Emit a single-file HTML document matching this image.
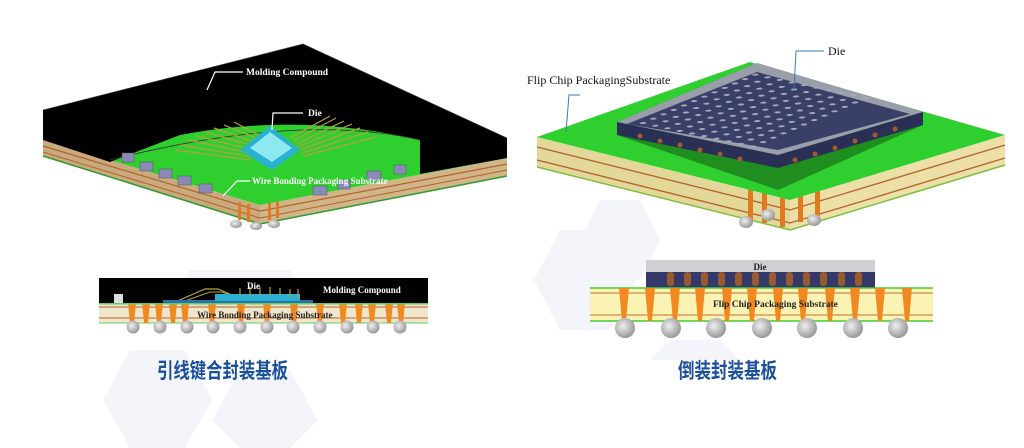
<!DOCTYPE html>
<html><head><meta charset="utf-8"><style>
html,body{margin:0;padding:0;background:#fff;width:1024px;height:448px;overflow:hidden}
svg{display:block}
.t{font-family:"Liberation Serif",serif;font-weight:bold;fill:#fff}
.tb{font-family:"Liberation Serif",serif;font-weight:bold;fill:#222}
.cn{font-family:"Liberation Sans","Noto Sans CJK SC",sans-serif;font-weight:bold;fill:#1b4f9c}
</style></head><body>
<svg width="1024" height="448" viewBox="0 0 1024 448" xmlns="http://www.w3.org/2000/svg">
<defs>
<radialGradient id="ball" cx="0.4" cy="0.4" r="0.7"><stop offset="0" stop-color="#f0f0f0"/><stop offset="1" stop-color="#8a8a8a"/></radialGradient>
<pattern id="dots" width="1" height="1" patternUnits="userSpaceOnUse"><circle cx="0.5" cy="0.5" r="0.2" fill="#a8a8bc"/></pattern>
</defs>
<g fill="#f3f5fa">
<polygon points="130,350 185,350 212,400 185,448 130,448 103,400"/>
<polygon points="240,370 290,370 318,420 290,448 240,448 212,420"/>
<polygon points="560,230 610,230 636,280 610,330 560,330 534,280"/>
<polygon points="600,200 640,200 660,240 640,280 600,280 580,240"/>
<polygon points="190,270 290,270 300,290 180,290"/>
<polygon points="670,340 720,340 740,360 650,360"/>
</g>

<!-- ===== LEFT 3D ===== -->
<polygon points="43,140 260,205 260,224 43,156" fill="#c9aa7e"/>
<polygon points="260,205 507,158 507,176 260,224" fill="#d2b489"/>
<polyline points="43,146 260,211 507,164" fill="none" stroke="#b0642a" stroke-width="1.2"/>
<polyline points="43,152 260,218 507,170" fill="none" stroke="#b0642a" stroke-width="1"/>
<polyline points="43,156 260,224 507,176" fill="none" stroke="#2e9a2e" stroke-width="1.5"/>
<g fill="#e07a20"><rect x="238" y="202" width="3" height="18"/><rect x="247" y="204" width="3" height="18"/><rect x="268" y="202" width="3" height="18"/><rect x="276" y="200" width="3" height="18"/></g>
<g fill="url(#ball)"><ellipse cx="236" cy="224" rx="6" ry="4"/><ellipse cx="256" cy="226" rx="6" ry="4"/><ellipse cx="274" cy="224" rx="6" ry="4"/></g>
<polygon points="43,140 180,100 420,130 507,158 260,205" fill="#2fcf2f"/>
<path d="M43,110 L303,44 L507,138 L507,158 L420,174 L420,140 Q300,112 180,135 L110,162 L43,140 Z" fill="#000"/>
<path d="M110,160 Q300,112 420,140" fill="none" stroke="#333" stroke-width="0.8"/>
<polyline points="43,110 303,44 507,138" fill="none" stroke="#444" stroke-width="0.6"/>
<g stroke="#b8a040" stroke-width="1.2">
<line x1="175" y1="150" x2="250" y2="160"/><line x1="180" y1="145" x2="252" y2="157"/><line x1="188" y1="140" x2="255" y2="154"/><line x1="196" y1="136" x2="258" y2="151"/><line x1="205" y1="132" x2="260" y2="148"/><line x1="214" y1="128" x2="263" y2="145"/><line x1="224" y1="125" x2="266" y2="142"/><line x1="234" y1="122" x2="268" y2="140"/>
<line x1="360" y1="128" x2="300" y2="150"/><line x1="352" y1="124" x2="298" y2="147"/><line x1="344" y1="121" x2="296" y2="144"/><line x1="336" y1="118" x2="293" y2="141"/><line x1="330" y1="116" x2="290" y2="138"/><line x1="368" y1="132" x2="302" y2="153"/><line x1="376" y1="137" x2="304" y2="156"/>
</g>
<polygon points="240,150 270,126 300,150 272,170" fill="#2ab0d0"/>
<polygon points="250,148 270,132 292,148 272,162" fill="#8ee8f0"/>
<g fill="#8a8ab8" stroke="#555" stroke-width="0.5">
<rect x="122" y="153" width="12" height="9"/><rect x="140" y="162" width="13" height="9"/><rect x="159" y="169" width="13" height="9"/><rect x="178" y="176" width="13" height="9"/><rect x="199" y="184" width="13" height="9"/>
<rect x="313" y="186" width="14" height="9"/><rect x="338" y="180" width="12" height="9"/><rect x="367" y="171" width="14" height="9"/><rect x="394" y="165" width="12" height="9"/>
</g>
<text class="t" x="246" y="75" font-size="9.5">Molding Compound</text>
<polyline points="243,72 215,72 207,90" fill="none" stroke="#fff" stroke-width="1.2"/>
<text class="t" x="308" y="116" font-size="9.5">Die</text>
<polyline points="303,113 273,113 272,130" fill="none" stroke="#fff" stroke-width="1.2"/>
<text class="t" x="252" y="184" font-size="9">Wire Bonding Packaging Substrate</text>
<polyline points="250,181 237,181 223,196" fill="none" stroke="#fff" stroke-width="1.2"/>

<!-- ===== RIGHT 3D ===== -->
<polygon points="537,137 790,200 790,230 537,167" fill="#e4d79a"/>
<polygon points="790,200 1005,135 1005,165 790,230" fill="#ece0a8"/>
<polyline points="537,147 790,210 1005,145" fill="none" stroke="#b0642a" stroke-width="1.3"/>
<polyline points="537,160 790,223 1005,158" fill="none" stroke="#b0642a" stroke-width="1.3"/>
<polyline points="537,167 790,230 1005,165" fill="none" stroke="#7ac040" stroke-width="1.5"/>
<g fill="#e07a20"><rect x="748" y="185" width="5" height="35"/><rect x="762" y="188" width="5" height="35"/><rect x="780" y="192" width="5" height="35"/><rect x="798" y="190" width="5" height="32"/><rect x="815" y="184" width="5" height="32"/></g>
<g fill="url(#ball)"><ellipse cx="746" cy="222" rx="7" ry="6"/><ellipse cx="768" cy="215" rx="7" ry="6"/><ellipse cx="814" cy="220" rx="7" ry="6"/></g>
<polygon points="537,137 750,62 1005,135 790,200" fill="#2fcf2f"/>
<polygon points="617,122 757,63 923,112 923,125 778,190 617,135" fill="#135a13" opacity="0.55"/>
<!-- die: grey translucent rim then navy -->
<polygon points="617,122 757,63 923,112 778,155" fill="#9a9eaa"/>
<polygon points="627,124 757,72 910,114 778,150" fill="#3a3f68"/>
<polygon points="617,122 778,155 778,168 617,135" fill="#2a2f55"/>
<polygon points="778,155 923,112 923,125 778,168" fill="#2a2f55"/>
<g transform="matrix(10.2,-4.4,12.2,2.6,632,124)">
<rect x="0" y="0" width="12" height="10" fill="url(#dots)"/>
</g>
<g fill="#a05a30"><circle cx="640" cy="136" r="2.5"/><circle cx="660" cy="141" r="2.5"/><circle cx="680" cy="145" r="2.5"/><circle cx="700" cy="150" r="2.5"/><circle cx="720" cy="154" r="2.5"/><circle cx="740" cy="159" r="2.5"/><circle cx="795" cy="160" r="2.5"/><circle cx="815" cy="154" r="2.5"/><circle cx="835" cy="148" r="2.5"/><circle cx="855" cy="141" r="2.5"/><circle cx="875" cy="135" r="2.5"/><circle cx="895" cy="129" r="2.5"/></g>
<text x="527" y="84" font-family="Liberation Serif,serif" font-size="12" fill="#111">Flip Chip PackagingSubstrate</text>
<polyline points="580,95 569,95 566,132" fill="none" stroke="#3a78b8" stroke-width="1"/>
<text x="828" y="55" font-family="Liberation Serif,serif" font-size="12" fill="#111">Die</text>
<polyline points="824,51 796,51 794,90" fill="none" stroke="#3a78b8" stroke-width="1"/>

<!-- ===== LEFT CROSS SECTION ===== -->
<rect x="99" y="278" width="329" height="25" fill="#000"/>
<rect x="114" y="294" width="9" height="9" fill="#ddd"/>
<polyline points="175,302 205,289 218,289 232,295" fill="none" stroke="#b8a040" stroke-width="1.2"/>
<polyline points="182,302 210,292 222,292 236,297" fill="none" stroke="#b8a040" stroke-width="1"/>
<rect x="163" y="300" width="150" height="3" fill="#2a70b0"/>
<rect x="215" y="294" width="85" height="7" fill="#2ab0d0"/>
<g stroke="#b8a040" stroke-width="1.2"><line x1="240" y1="296" x2="240" y2="288"/><line x1="250" y1="296" x2="250" y2="287"/><line x1="260" y1="296" x2="260" y2="287"/><line x1="270" y1="296" x2="270" y2="287"/><line x1="280" y1="296" x2="280" y2="288"/><line x1="290" y1="297" x2="290" y2="289"/><line x1="298" y1="298" x2="298" y2="289"/></g>
<rect x="99" y="303" width="329" height="20" fill="#efe6cc"/>
<line x1="99" y1="307" x2="428" y2="307" stroke="#b0642a"/>
<line x1="99" y1="318" x2="428" y2="318" stroke="#b0642a"/>
<line x1="99" y1="323" x2="428" y2="323" stroke="#6c6"/>
<g fill="#f08a20">
<polygon points="128,303 136,303 134,323 130,323"/><polygon points="142,303 150,303 148,323 144,323"/><polygon points="155,303 163,303 161,323 157,323"/><polygon points="169,303 177,303 175,323 171,323"/><polygon points="181,303 189,303 187,323 183,323"/><polygon points="208,303 216,303 214,323 210,323"/><polygon points="237,303 245,303 243,323 239,323"/><polygon points="263,303 271,303 269,323 265,323"/><polygon points="290,303 298,303 296,323 292,323"/><polygon points="316,303 324,303 322,323 318,323"/><polygon points="339,303 347,303 345,323 341,323"/><polygon points="355,303 363,303 361,323 357,323"/><polygon points="368,303 376,303 374,323 370,323"/><polygon points="385,303 393,303 391,323 387,323"/><polygon points="397,303 405,303 403,323 399,323"/>
</g>
<g fill="url(#ball)"><circle cx="133" cy="327" r="6.5"/><circle cx="160" cy="327" r="6.5"/><circle cx="187" cy="327" r="6.5"/><circle cx="213" cy="327" r="6.5"/><circle cx="240" cy="327" r="6.5"/><circle cx="267" cy="327" r="6.5"/><circle cx="293" cy="327" r="6.5"/><circle cx="320" cy="327" r="6.5"/><circle cx="347" cy="327" r="6.5"/><circle cx="373" cy="327" r="6.5"/><circle cx="400" cy="327" r="6.5"/></g>
<rect x="99" y="303" width="329" height="1.5" fill="#6c6"/>
<text class="t" x="247" y="289" font-size="9">Die</text>
<text class="t" x="323" y="293" font-size="9">Molding Compound</text>
<text class="tb" x="197" y="318" font-size="9">Wire Bonding Packaging Substrate</text>

<!-- ===== RIGHT CROSS SECTION ===== -->
<rect x="646" y="260" width="229" height="12" fill="#cfcfd4"/>
<rect x="646" y="272" width="229" height="16" fill="#34396a"/>
<g fill="#9a5a30"><rect x="667" y="272" width="7" height="14" rx="3"/><rect x="684" y="272" width="7" height="14" rx="3"/><rect x="701" y="272" width="7" height="14" rx="3"/><rect x="718" y="272" width="7" height="14" rx="3"/><rect x="735" y="272" width="7" height="14" rx="3"/><rect x="752" y="272" width="7" height="14" rx="3"/><rect x="769" y="272" width="7" height="14" rx="3"/><rect x="786" y="272" width="7" height="14" rx="3"/><rect x="803" y="272" width="7" height="14" rx="3"/><rect x="820" y="272" width="7" height="14" rx="3"/><rect x="838" y="272" width="7" height="14" rx="3"/><rect x="855" y="272" width="7" height="14" rx="3"/></g>
<rect x="590" y="288" width="343" height="33" fill="#fbf3b4"/>
<line x1="590" y1="293" x2="933" y2="293" stroke="#c07030"/>
<line x1="590" y1="315" x2="933" y2="315" stroke="#c07030"/>
<line x1="590" y1="288" x2="933" y2="288" stroke="#44cc33" stroke-width="1.5"/>
<line x1="590" y1="321" x2="933" y2="321" stroke="#44cc33" stroke-width="1.5"/>
<g fill="#f08a20">
<polygon points="619,288 629,288 626,321 622,321"/><polygon points="645,288 655,288 652,321 648,321"/><polygon points="670,288 680,288 677,321 673,321"/><polygon points="695,288 705,288 702,321 698,321"/><polygon points="722,288 732,288 729,321 725,321"/><polygon points="747,288 757,288 754,321 750,321"/><polygon points="773,288 783,288 780,321 776,321"/><polygon points="798,288 808,288 805,321 801,321"/><polygon points="825,288 835,288 832,321 828,321"/><polygon points="850,288 860,288 857,321 853,321"/><polygon points="875,288 885,288 882,321 878,321"/><polygon points="902,288 912,288 909,321 905,321"/>
</g>
<g fill="url(#ball)"><circle cx="625" cy="328" r="10"/><circle cx="671" cy="328" r="10"/><circle cx="716" cy="328" r="10"/><circle cx="762" cy="328" r="10"/><circle cx="807" cy="328" r="10"/><circle cx="853" cy="328" r="10"/><circle cx="898" cy="328" r="10"/></g>
<text class="tb" x="760" y="270" font-size="9" text-anchor="middle">Die</text>
<text class="tb" x="713" y="307" font-size="9.5">Flip Chip Packaging Substrate</text>

<text class="cn" x="157" y="378" font-size="21" textLength="131" lengthAdjust="spacingAndGlyphs">引线键合封装基板</text>
<text class="cn" x="678" y="378" font-size="21" textLength="99" lengthAdjust="spacingAndGlyphs">倒装封装基板</text>
</svg>
</body></html>
